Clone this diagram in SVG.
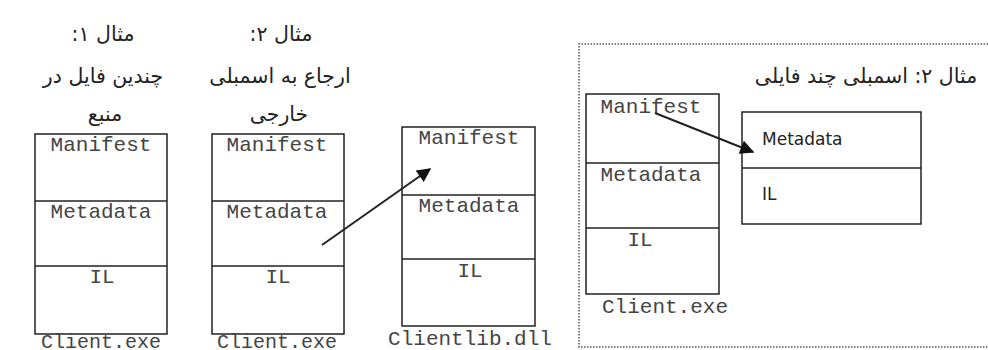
<svg xmlns="http://www.w3.org/2000/svg" width="988" height="350" viewBox="0 0 988 350">
<defs>
<style>
.box{fill:none;stroke:#222;stroke-width:1.5}
.div{stroke:#222;stroke-width:1.5}
.mono{font-family:"Liberation Mono","Courier New",monospace;font-size:21px;fill:#444;text-anchor:middle}
.foot{font-size:20px}
.sans{font-family:"DejaVu Sans",Tahoma,sans-serif;font-size:17px;fill:#222}
.fa{font-family:"DejaVu Sans","Noto Sans",sans-serif;font-size:20.5px;fill:#222;text-anchor:middle;direction:rtl}
.conn{stroke:#222;stroke-width:2;fill:none}
.dots{fill:none;stroke:#555;stroke-width:1.5;stroke-dasharray:1.5 1.5}
</style>
<marker id="ah" viewBox="0 0 10 10" refX="9" refY="5" markerWidth="9" markerHeight="7" orient="auto" markerUnits="strokeWidth">
<path d="M0,0 L10,5 L0,10 z" fill="#111"/>
</marker>
</defs>
<rect width="988" height="350" fill="#fff"/>
<g id="frame">
<polyline class="dots" points="988,44 579,44 579,347 988,347"/>
</g>
<g id="labels">
<text class="fa" x="103" y="41">مثال ۱:</text>
<text class="fa" x="103" y="83">چندین فایل در</text>
<text class="fa" x="105" y="121">منبع</text>
<text class="fa" x="281" y="41">مثال ۲:</text>
<text class="fa" x="280" y="83">ارجاع به اسمبلی</text>
<text class="fa" x="279" y="121">خارجی</text>
<text class="fa" x="866" y="83">مثال ۲:  اسمبلی چند فایلی</text>
</g>
<g id="node-client1">
<rect class="box" x="35" y="134" width="132" height="200"/>
<line class="div" x1="35" y1="201" x2="167" y2="201"/>
<line class="div" x1="35" y1="266" x2="167" y2="266"/>
<text class="mono" x="101" y="151">Manifest</text>
<text class="mono" x="101" y="218">Metadata</text>
<text class="mono" x="102" y="283">IL</text>
<text class="mono foot" x="101" y="348">Client.exe</text>
</g>
<g id="node-client2">
<rect class="box" x="212" y="134" width="132" height="200"/>
<line class="div" x1="212" y1="201" x2="344" y2="201"/>
<line class="div" x1="212" y1="266" x2="344" y2="266"/>
<text class="mono" x="277" y="151">Manifest</text>
<text class="mono" x="277" y="218">Metadata</text>
<text class="mono" x="278" y="283">IL</text>
<text class="mono foot" x="277" y="348">Client.exe</text>
</g>
<g id="node-clientlib">
<rect class="box" x="402" y="127" width="133" height="199"/>
<line class="div" x1="402" y1="195" x2="535" y2="195"/>
<line class="div" x1="402" y1="259" x2="535" y2="259"/>
<text class="mono" x="469" y="144">Manifest</text>
<text class="mono" x="469" y="212">Metadata</text>
<text class="mono" x="470" y="277">IL</text>
<text class="mono" x="470" y="345">Clientlib.dll</text>
</g>
<g id="node-client3">
<rect class="box" x="586" y="94" width="133" height="200"/>
<line class="div" x1="586" y1="163" x2="719" y2="163"/>
<line class="div" x1="586" y1="228" x2="719" y2="228"/>
<text class="mono" x="651" y="113">Manifest</text>
<text class="mono" x="651" y="181">Metadata</text>
<text class="mono" x="640" y="246">IL</text>
<text class="mono" x="665" y="313">Client.exe</text>
</g>
<g id="node-module">
<rect class="box" x="742" y="112" width="179" height="112"/>
<line class="div" x1="742" y1="168" x2="921" y2="168"/>
<text class="sans" x="762" y="145">Metadata</text>
<text class="sans" x="762" y="200">IL</text>
</g>
<g id="connectors">
<line class="conn" x1="322" y1="245" x2="430" y2="169" marker-end="url(#ah)"/>
<line class="conn" x1="655" y1="113" x2="753" y2="152" marker-end="url(#ah)"/>
</g>
</svg>
